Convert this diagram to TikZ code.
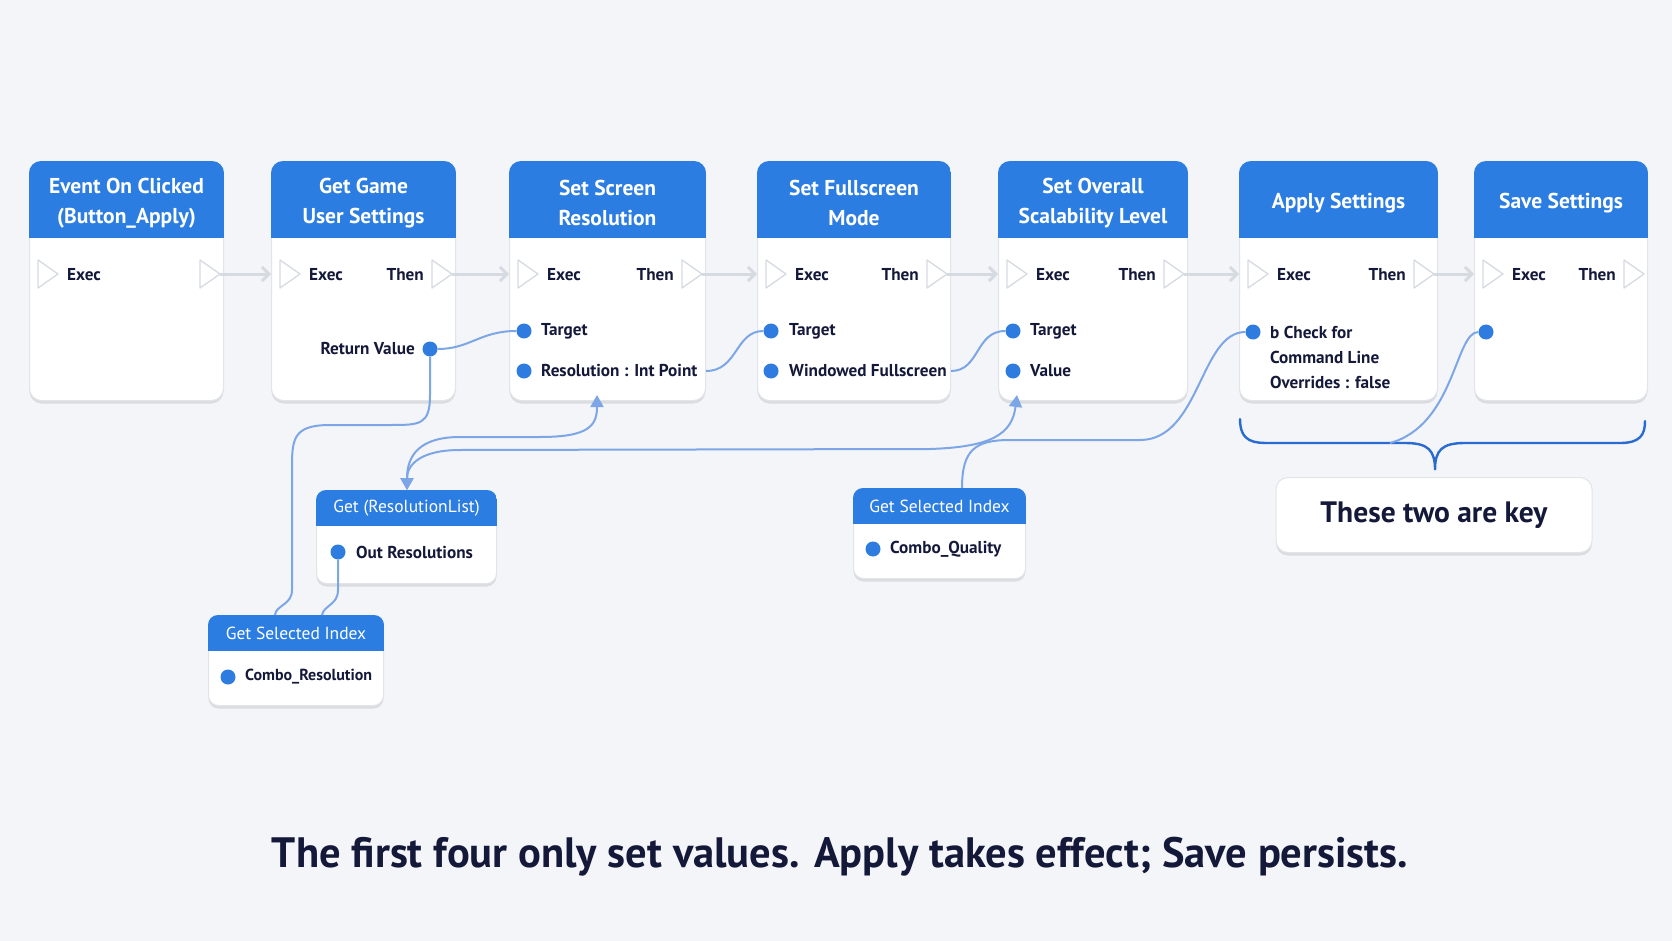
\documentclass[tikz,border=0pt]{standalone}
\usepackage{fontspec}
\setmainfont{PT Sans}
\usetikzlibrary{calc,shadows,arrows.meta}

\definecolor{sfondo}{HTML}{F4F5F8}
\definecolor{testata}{HTML}{2C7DE1}
\definecolor{perno}{HTML}{2E7CE0}
\definecolor{filo}{HTML}{7DA6E6}
\definecolor{graffa}{HTML}{2A6BD1}
\definecolor{inchiostro}{HTML}{14193A}
\definecolor{bordo}{HTML}{E1E4E9}
\definecolor{esecuz}{HTML}{D6DBE2}

\begin{document}
\begin{tikzpicture}[x=1pt, y=-1pt,
    body/.style={draw=bordo, fill=white, line width=1pt, rounded corners=12pt,
        anchor=north west, inner sep=0pt,
        drop shadow={shadow xshift=0pt, shadow yshift=-3pt, opacity=0.10, fill=black}},
    hdr/.style={text=white, font=\bfseries\fontsize{21.5}{30}\selectfont, align=center, inner sep=0pt},
    shdr/.style={text=white, font=\fontsize{17.5}{20}\selectfont, inner sep=0pt},
    lbl/.style={text=inchiostro, font=\bfseries\fontsize{17.2}{25}\selectfont, anchor=west, inner sep=0pt},
    slbl/.style={text=inchiostro, font=\bfseries\fontsize{17.2}{20}\selectfont, anchor=west, inner sep=0pt},
    dot/.style={circle, fill=perno, minimum size=15pt, inner sep=0pt},
    pin/.style={draw=esecuz, fill=white, line width=1.3pt, line join=round},
    wire/.style={draw=filo, line width=2pt},
    execwire/.style={draw=esecuz, line width=3pt, -{Straight Barb[length=7pt,width=14pt]}},
    tipa/.style={-{Triangle[length=12pt,width=13pt]}},
    tipb/.style={{Triangle[length=12pt,width=13pt]}-{Triangle[length=12pt,width=13pt]}}
]

    % Sfondo e dimensioni
    \path[use as bounding box, fill=sfondo] (0,0) rectangle (1672,941);

    % Nodi principali (corpo, testata, pin di esecuzione)
    \foreach \n/\x/\w/\ttl in {1/29/194/{Event On Clicked\\(Button\_Apply)},
            2/271/184/{Get Game\\User Settings}, 3/509/196/{Set Screen\\Resolution},
            4/757/193/{Set Fullscreen\\Mode}, 5/998/189/{Set Overall\\Scalability Level},
            6/1239/198/{Apply Settings}, 7/1474/173/{Save Settings}} {
        \node[body, minimum width=\w pt, minimum height=239pt] (n\n) at (\x,161) {};
        \begin{scope}
            \clip[rounded corners=12pt] (n\n.north west) rectangle (n\n.south east);
            \fill[testata] (n\n.north west) rectangle ($(n\n.north east)+(0,77)$);
        \end{scope}
        \node[hdr] (t\n) at ($(n\n.north)+(0,42)$) {\ttl};
        \coordinate (in\n) at ($(n\n.north west)+(0,113)$);
        \coordinate (out\n) at ($(n\n.north east)+(-4,113)$);
        \filldraw[pin] ($(in\n)+(9,-14)$) -- ++(0,28) -- ++(20,-14) -- cycle;
        \filldraw[pin] ($(out\n)+(-20,-14)$) -- ++(0,28) -- ++(20,-14) -- cycle;
        \node[lbl] (ex\n) at ($(in\n)+(38,1)$) {Exec};
        \ifnum\n>1
            \node[lbl, anchor=east] (th\n) at ($(out\n)+(-28,1)$) {Then};
        \fi
    }

    % Fili di esecuzione
    \foreach \a/\b in {1/2, 2/3, 3/4, 4/5, 5/6, 6/7}
        \draw[execwire] (out\a) -- (in\b);

    % Pin dei dati
    \node[dot] (rv) at (430,349) {};
    \node[lbl, anchor=east] (rvl) at (415,349) {Return Value};
    \node[dot] (n3a) at (524,331) {};
    \node[lbl] (n3al) at (541,331) {Target};
    \node[dot] (n3b) at (524,371) {};
    \node[lbl] (n3bl) at (541,371) {Resolution : Int Point};
    \node[dot] (n4a) at (771,331) {};
    \node[lbl] (n4al) at (789,331) {Target};
    \node[dot] (n4b) at (771,371) {};
    \node[lbl] (n4bl) at (789,371) {Windowed Fullscreen};
    \node[dot] (n5a) at (1013,331) {};
    \node[lbl] (n5al) at (1030,331) {Target};
    \node[dot] (n5b) at (1013,371) {};
    \node[lbl] (n5bl) at (1030,371) {Value};
    \node[dot] (n6a) at (1253,332) {};
    \node[lbl, align=left] (n6al) at (1270,357) {b Check for\\Command Line\\Overrides : false};
    \node[dot] (n7a) at (1486,332) {};

    % Nodi secondari
    \node[body, rounded corners=10pt, minimum width=180pt, minimum height=93pt] (grl) at (316,490) {};
    \node[body, rounded corners=10pt, minimum width=175pt, minimum height=90pt] (gsr) at (208,615) {};
    \node[body, rounded corners=10pt, minimum width=172pt, minimum height=90pt] (gsq) at (853,488) {};
    \foreach \s in {grl, gsr, gsq} {
        \begin{scope}
            \clip[rounded corners=10pt] (\s.north west) rectangle (\s.south east);
            \fill[testata] (\s.north west) rectangle ($(\s.north east)+(0,36)$);
        \end{scope}
    }
    \node[shdr] (grlt) at ($(grl.north)+(0,18)$) {Get (ResolutionList)};
    \node[dot] (grla) at (338,552) {};
    \node[slbl] (grlal) at (356,552) {Out Resolutions};
    \node[shdr] (gsrt) at ($(gsr.north)+(0,18)$) {Get Selected Index};
    \node[dot] (gsra) at (228,677) {};
    \node[slbl, font=\bfseries\fontsize{16}{20}\selectfont] (gsral) at (245,677) {Combo\_Resolution};
    \node[shdr] (gsqt) at ($(gsq.north)+(0,18)$) {Get Selected Index};
    \node[dot] (gsqa) at (873,549) {};
    \node[slbl] (gsqal) at (890,549) {Combo\_Quality};

    % Fili dei dati
    \draw[wire] (rv) .. controls (470,349) and (480,331) .. (n3a);
    \draw[wire] (n3.east |- n3b) .. controls (738,371) and (735,331) .. (n4a);
    \draw[wire] (n4.east |- n4b) .. controls (980,371) and (975,331) .. (n5a);
    \draw[wire] (rv.south) -- (430,395) .. controls (430,425) and (420,425) .. (390,425)
        -- (330,425) .. controls (292,425) and (292,440) .. (292,470) -- (292,590)
        .. controls (292,605) and (276,605) .. ($(gsr.north west)+(67,0)$);
    \draw[wire] (grla.south) -- (338,590) .. controls (338,605) and (324,605) .. ($(gsr.north west)+(114,0)$);
    \draw[wire, tipb] ($(grl.north west)+(91,0)$) .. controls (407,455) and (420,437) .. (460,437)
        -- (540,437) .. controls (590,437) and (597,425) .. ($(n3.south west)+(88,-6)$);
    \draw[wire, tipb] ($(grl.north west)+(91,0)$) .. controls (407,465) and (420,450) .. (460,450)
        -- (930,449) .. controls (990,447) and (1012,435) .. ($(n5.south west)+(19,-6)$);
    \draw[wire] (gsq.north -| 962,0) .. controls (962,450) and (975,440) .. (1010,440)
        -- (1140,440) .. controls (1200,440) and (1200,332) .. (n6a);

    % Graffa sotto Apply e Save
    \coordinate (bj) at (1390,443);
    \draw[graffa, line width=2.4pt, line cap=round]
        (1240,419) .. controls (1240,443) and (1255,443) .. (1270,443) -- (1405,443)
        .. controls (1428,443) and (1435,450) .. (1435,470)
        .. controls (1435,450) and (1442,443) .. (1465,443) -- (1620,443)
        .. controls (1640,443) and (1645,435) .. (1645,421);
    \draw[wire] (n7a) .. controls (1455,332) and (1455,425) .. (bj);

    % Riquadro e didascalia
    \node[body, anchor=center, minimum width=316pt, minimum height=75pt,
        font=\bfseries\fontsize{29.5}{32}\selectfont, text=inchiostro] (key) at (1434,515) {These two are key};
    \node[text=inchiostro, font=\bfseries\fontsize{42.5}{46}\selectfont] (cap) at (840,857)
        {The first four only set values. Apply takes effect; Save persists.};

\end{tikzpicture}
\end{document}
